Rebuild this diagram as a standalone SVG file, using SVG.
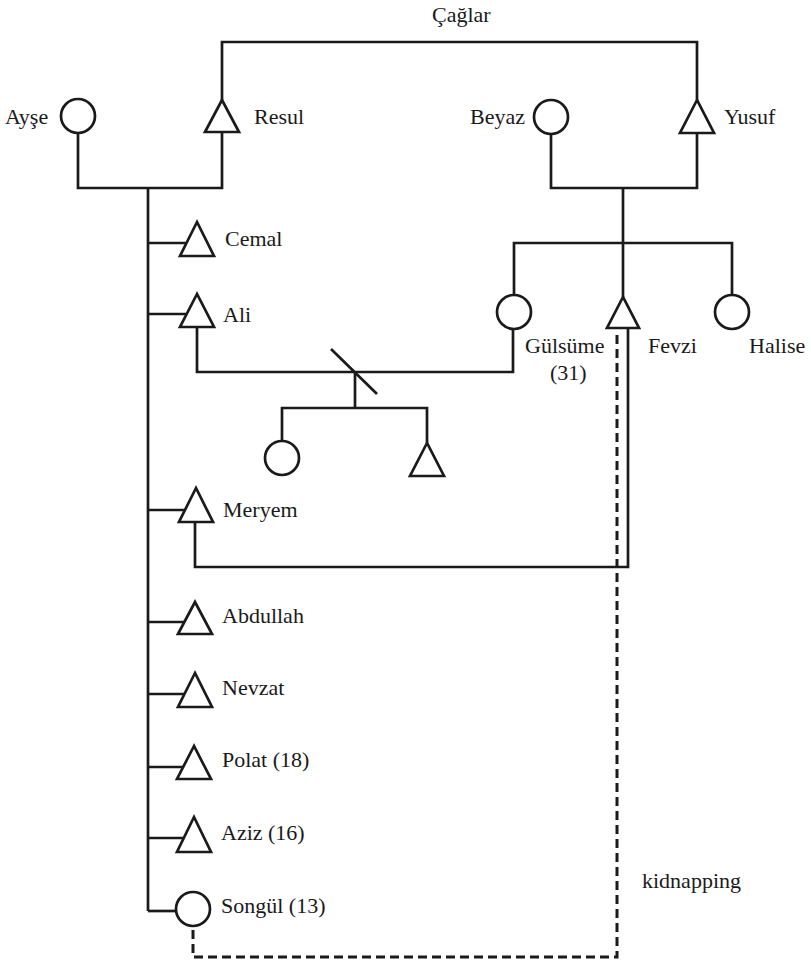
<svg xmlns="http://www.w3.org/2000/svg" width="811" height="963" viewBox="0 0 811 963">
<style>
.l{stroke:#1a1a1a;stroke-width:2.7;fill:none;stroke-linejoin:miter}
.d{stroke:#1a1a1a;stroke-width:3;fill:none;stroke-dasharray:9 5}
.n{stroke:#1a1a1a;stroke-width:2.7;fill:#fff}
text{font-family:'Liberation Serif','Times New Roman','DejaVu Serif',serif;font-size:22px;fill:#1a1a1a}
</style>
<rect width="811" height="963" fill="#fff"/>
<g id="connectors">
<polyline class="l" points="222,100 222,42 697,42 697,100"/>
<polyline class="l" points="78,133 78,188 222,188 222,132"/>
<line class="l" x1="148" y1="188" x2="148" y2="911"/>
<line class="l" x1="148" y1="243" x2="188" y2="243"/>
<line class="l" x1="148" y1="314" x2="188" y2="314"/>
<line class="l" x1="148" y1="510" x2="186" y2="510"/>
<line class="l" x1="148" y1="622" x2="186" y2="622"/>
<line class="l" x1="148" y1="694" x2="186" y2="694"/>
<line class="l" x1="148" y1="767" x2="186" y2="767"/>
<line class="l" x1="148" y1="838" x2="186" y2="838"/>
<line class="l" x1="148" y1="911" x2="176" y2="911"/>
<polyline class="l" points="551,134 551,188 697,188 697,133"/>
<line class="l" x1="623" y1="188" x2="623" y2="297"/>
<polyline class="l" points="514,295 514,243 732,243 732,295"/>
<polyline class="l" points="197,327 197,372 513,372 513,329"/>
<line class="l" x1="331" y1="349" x2="377" y2="394"/>
<line class="l" x1="355" y1="372" x2="355" y2="408"/>
<polyline class="l" points="282,441 282,408 427,408 427,443"/>
<polyline class="l" points="195,522 195,567 628,567 628,328"/>
<polyline class="d" points="617,335 617,957 193,957 193,927"/>
</g>
<g id="caglar"><text x="432" y="22">Çağlar</text></g>
<g id="ayse"><circle class="n" cx="78" cy="116" r="17"/><text x="5" y="124">Ayşe</text></g>
<g id="resul"><polygon class="n" points="222,100 205,132 239,132"/><text x="254" y="124">Resul</text></g>
<g id="beyaz"><circle class="n" cx="551" cy="117" r="17"/><text x="470" y="124">Beyaz</text></g>
<g id="yusuf"><polygon class="n" points="697,100 680,133 714,133"/><text x="724" y="124">Yusuf</text></g>
<g id="cemal"><polygon class="n" points="197,222 180,256 214,256"/><text x="225" y="246">Cemal</text></g>
<g id="ali"><polygon class="n" points="197,294 180,327 214,327"/><text x="223" y="322">Ali</text></g>
<g id="gulsume"><circle class="n" cx="514" cy="312" r="17"/><text x="525" y="353">Gülsüme</text><text x="550" y="380">(31)</text></g>
<g id="fevzi"><polygon class="n" points="623,297 607,328 639,328"/><text x="648" y="353">Fevzi</text></g>
<g id="halise"><circle class="n" cx="732" cy="312" r="17"/><text x="749" y="353">Halise</text></g>
<g id="child-f"><circle class="n" cx="282" cy="458" r="17"/></g>
<g id="child-m"><polygon class="n" points="427,443 410,476 444,476"/></g>
<g id="meryem"><polygon class="n" points="196,488 179,522 213,522"/><text x="223" y="517">Meryem</text></g>
<g id="abdullah"><polygon class="n" points="195,602 178,634 212,634"/><text x="222" y="623">Abdullah</text></g>
<g id="nevzat"><polygon class="n" points="195,673 178,707 212,707"/><text x="222" y="695">Nevzat</text></g>
<g id="polat"><polygon class="n" points="194,746 177,779 211,779"/><text x="222" y="767">Polat (18)</text></g>
<g id="aziz"><polygon class="n" points="194,817 177,852 211,852"/><text x="221" y="840">Aziz (16)</text></g>
<g id="songul"><circle class="n" cx="193" cy="909" r="17"/><text x="221" y="913">Songül (13)</text></g>
<g id="kidnapping"><text x="642" y="888">kidnapping</text></g>
</svg>
